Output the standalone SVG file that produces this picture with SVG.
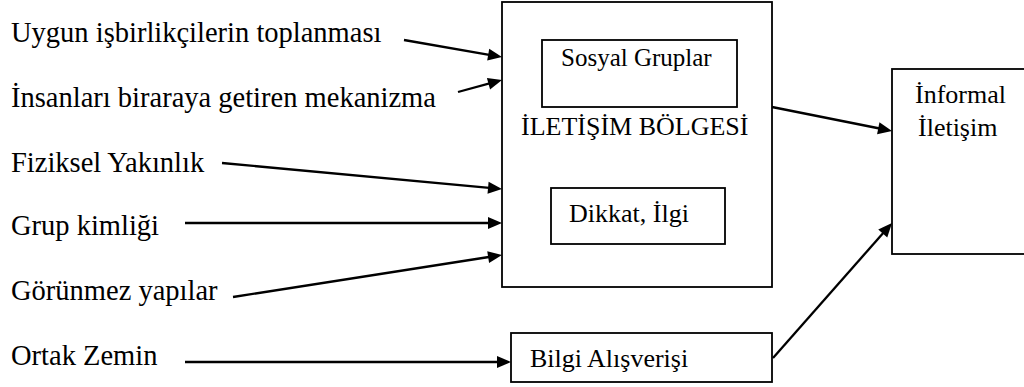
<svg xmlns="http://www.w3.org/2000/svg" width="1024" height="387" viewBox="0 0 1024 387" font-family="Liberation Serif, serif">
<defs>
<path id="ah" d="M0,0 L-14,-6 L-14,6 Z" fill="#000"/>
</defs>
<rect width="1024" height="387" fill="#fff"/>
<g id="labels" fill="#000" font-size="28.5">
<g id="lbl-uygun"><text x="11" y="42" font-family="Liberation Serif, serif">Uygun işbirlikçilerin toplanması</text></g>
<g id="lbl-insan"><text x="11" y="107" font-family="Liberation Serif, serif">İnsanları biraraya getiren mekanizma</text></g>
<g id="lbl-fizik"><text x="11" y="172" font-family="Liberation Serif, serif">Fiziksel Yakınlık</text></g>
<g id="lbl-grup"><text x="11" y="235" font-family="Liberation Serif, serif">Grup kimliği</text></g>
<g id="lbl-gorun"><text x="11" y="300" font-family="Liberation Serif, serif">Görünmez yapılar</text></g>
<g id="lbl-ortak"><text x="11" y="365" font-family="Liberation Serif, serif">Ortak Zemin</text></g>
</g>
<g id="nodes" fill="#000" font-size="26">
<g id="iletisim-bolgesi">
<rect x="502" y="2" width="270" height="285" fill="#fff" stroke="#000" stroke-width="1.8"/>
<text x="521" y="135" font-family="Liberation Serif, serif">İLETİŞİM BÖLGESİ</text>
</g>
<g id="sosyal"><rect x="542" y="40" width="195" height="67" fill="#fff" stroke="#000" stroke-width="1.8"/><text x="561" y="66" font-size="25" font-family="Liberation Serif, serif">Sosyal Gruplar</text></g>
<g id="dikkat"><rect x="551" y="188" width="174" height="56" fill="#fff" stroke="#000" stroke-width="1.8"/><text x="569" y="222" font-family="Liberation Serif, serif">Dikkat, İlgi</text></g>
<g id="bilgi"><rect x="511" y="333" width="261" height="49" fill="#fff" stroke="#000" stroke-width="1.8"/><text x="530" y="367" font-family="Liberation Serif, serif">Bilgi Alışverişi</text></g>
<g id="informal"><rect x="892" y="69" width="140" height="185" fill="#fff" stroke="#000" stroke-width="1.8"/><text x="915" y="103" font-family="Liberation Serif, serif">İnformal</text><text x="918" y="136" font-family="Liberation Serif, serif">İletişim</text></g>
</g>
<g id="connectors" stroke="#000" stroke-width="2.3">
<line x1="404" y1="40" x2="492.1" y2="55.3"/>
<line x1="458" y1="92" x2="492.3" y2="82.6"/>
<line x1="222" y1="163" x2="492" y2="188.1"/>
<line x1="185" y1="223" x2="492" y2="223"/>
<line x1="233" y1="297" x2="492.1" y2="256.5"/>
<line x1="185" y1="362" x2="501" y2="362"/>
<line x1="772" y1="107" x2="882.2" y2="129"/>
<line x1="773" y1="358" x2="885.4" y2="230.5"/>
<g stroke="none">
<use href="#ah" transform="translate(502,57) rotate(9.84)"/>
<use href="#ah" transform="translate(502,80) rotate(-15.26)"/>
<use href="#ah" transform="translate(502,189) rotate(5.31)"/>
<use href="#ah" transform="translate(502,223)"/>
<use href="#ah" transform="translate(502,255) rotate(-8.87)"/>
<use href="#ah" transform="translate(511,362)"/>
<use href="#ah" transform="translate(892,131) rotate(11.31)"/>
<use href="#ah" transform="translate(892,223) rotate(-48.6)"/>
</g>
</g>
</svg>
